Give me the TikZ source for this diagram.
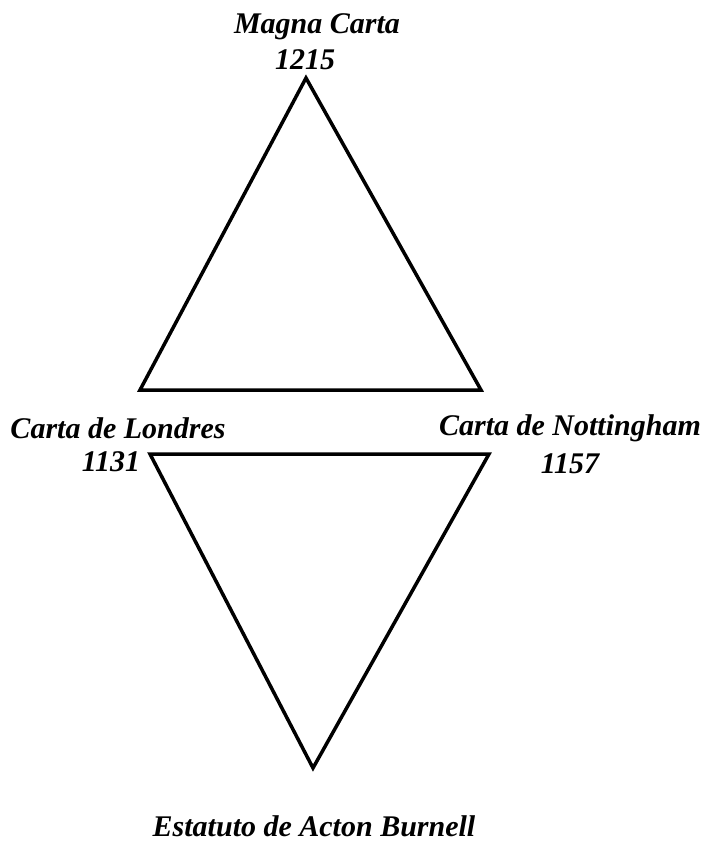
\documentclass[tikz,border=0pt]{standalone}
\usepackage{fontspec}
\setmainfont{Liberation Serif}
\begin{document}
\begin{tikzpicture}[x=1pt, y=-1pt, every node/.style={font=\bfseries\itshape\fontsize{30}{34}\selectfont, inner sep=0pt}]
    \useasboundingbox (0,0) rectangle (707,844);

    % Upper triangle
    \coordinate (mc) at (306,78);
    \coordinate (lo) at (140,390);
    \coordinate (no) at (481,390);
    \draw[line width=3.5pt, line join=miter] (mc) -- (lo) -- (no) -- cycle;

    % Lower triangle
    \coordinate (lo2) at (150,454);
    \coordinate (no2) at (489,454);
    \coordinate (ab) at (313,768);
    \draw[line width=3.5pt, line join=miter] (lo2) -- (no2) -- (ab) -- cycle;

    % Labels
    \node (magna) at (317,27) {Magna Carta};
    \node (magnay) at (305,60) {1215};
    \node (londres) at (118,428) {Carta de Londres};
    \node (londresy) at (111,462) {1131};
    \node (notting) at (570,428) {Carta de Nottingham};
    \node (nottingy) at (570,464) {1157};
    \node (acton) at (314,826) {Estatuto de Acton Burnell};
\end{tikzpicture}
\end{document}
